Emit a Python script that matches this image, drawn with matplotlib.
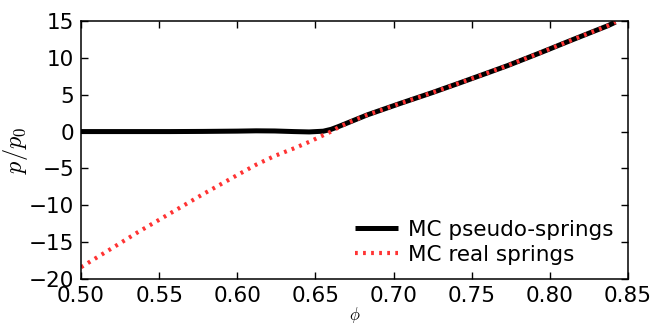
import matplotlib
matplotlib.use('Agg')
import matplotlib.pyplot as plt
import numpy as np

# packing fraction and reduced pressure
phi = [0.500, 0.510, 0.520, 0.536, 0.557, 0.578, 0.600, 0.612, 0.624, 0.636,
       0.646, 0.655, 0.660, 0.665, 0.672, 0.683, 0.704, 0.725, 0.743, 0.760,
       0.773, 0.794, 0.815, 0.837, 0.842]
p_pseudo = [0.0, 0.0, 0.0, 0.0, 0.0, 0.02, 0.06, 0.1, 0.08, 0.0,
            -0.05, 0.05, 0.3, 0.7, 1.3, 2.25, 3.8, 5.3, 6.65, 7.95,
            8.95, 10.7, 12.5, 14.35, 14.85]
p_real = [-18.4, -17.1, -15.8, -13.7, -11.1, -8.5, -5.9, -4.5, -3.3, -2.3,
          -1.4, -0.5, 0.0, 0.6, 1.3, 2.25, 3.8, 5.3, 6.65, 7.95,
          8.95, 10.7, 12.5, 14.35, 14.85]

xticks = [0.50, 0.55, 0.60, 0.65, 0.70, 0.75, 0.80, 0.85]
yticks = [-20, -15, -10, -5, 0, 5, 10, 15]

plt.rcParams['mathtext.fontset'] = 'cm'
plt.rcParams['font.size'] = 15.5
plt.rcParams['lines.scale_dashes'] = False

fig = plt.figure(figsize=(6.68, 3.24), dpi=100)
ax = fig.add_axes([0.1213, 0.1389, 0.8188, 0.7963])

ax.plot(phi, p_pseudo, color='k', lw=3.6, solid_capstyle='butt', label='MC pseudo-springs')
ax.plot(phi, p_real, color='#ff3333', lw=3.0, dashes=(2.0, 3.8), label='MC real springs')

ax.set_xlim(0.50, 0.85)
ax.set_ylim(-20, 15)
ax.set_xticks(xticks)
ax.set_xticklabels(['%.2f' % v for v in xticks])
ax.set_yticks(yticks)
ax.tick_params(direction='in', top=True, right=True, length=5, width=1, pad=5, labelsize=15.5)
for s in ax.spines.values():
    s.set_linewidth(1.1)

ax.set_xlabel(r'$\phi$', fontsize=12, labelpad=-1)
ax.set_ylabel(r'$p/p_0$', fontsize=17.5, labelpad=-1)

ax.legend(loc='lower right', frameon=False, fontsize=15.5, handlelength=2.0,
          labelspacing=0.25, borderaxespad=0.25, handletextpad=0.5)

fig.savefig('out.png', dpi=100)
